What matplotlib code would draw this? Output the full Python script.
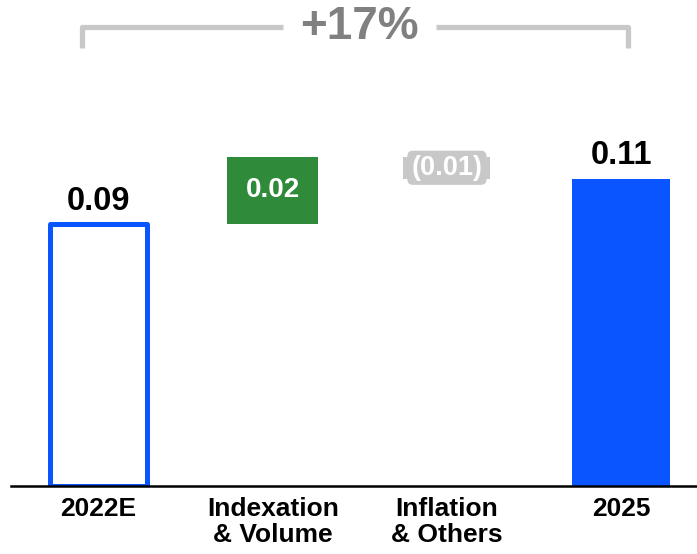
import matplotlib
matplotlib.use('Agg')
import matplotlib.pyplot as plt
from matplotlib.path import Path
from matplotlib.patches import PathPatch

plt.rcParams['font.family'] = ['Liberation Sans', 'DejaVu Sans']

# ── data ──
categories = ['2022E', 'Indexation\n& Volume', 'Inflation\n& Others', '2025']
start_value = 0.094
steps = [0.024, -0.008]
end_value = start_value + sum(steps)

BLUE = '#0A55FF'
GREEN = '#2F8A3A'
GREY = '#C8C8C8'
GREY_TXT = '#808080'

fig = plt.figure(figsize=(6.97, 5.54), dpi=100)
ax = fig.add_axes([11 / 697, 68 / 554, 1 - 11 / 697, 486 / 554])
ax.set_xlim(-0.503, 3.436)
ax.set_ylim(0, 0.1741)
for s in ['top', 'right', 'left']:
    ax.spines[s].set_visible(False)
ax.spines['bottom'].set_linewidth(1.8)
ax.spines['bottom'].set_zorder(5)
ax.set_yticks([])

x = list(range(len(categories)))

# start total: outlined bar
ax.bar(x[0], start_value, width=0.56, facecolor='white', edgecolor=BLUE,
       linewidth=3.6, joinstyle='round', zorder=2)
ax.annotate(f'{start_value:.2f}', (x[0], start_value), xytext=(0, 5),
            textcoords='offset points', ha='center', va='bottom',
            fontsize=23.5, fontweight='bold', color='black')

# floating steps
level = start_value
step_colors = [GREEN, GREY]
for i, (d, col) in enumerate(zip(steps, step_colors), start=1):
    bottom = level if d > 0 else level + d
    ax.bar(x[i], abs(d), bottom=bottom, width=0.52 if d > 0 else 0.5,
           color=col, zorder=2)
    mid = bottom + abs(d) / 2
    if d > 0:
        ax.text(x[i], mid, f'{d:.2f}', ha='center', va='center',
                fontsize=20, fontweight='bold', color='white', zorder=3)
    else:
        ax.text(x[i], mid, f'({abs(d):.2f})', ha='center', va='center',
                fontsize=19.5, fontweight='bold', color='white', zorder=3,
                bbox=dict(boxstyle='round,pad=0.15,rounding_size=0.2',
                          facecolor=GREY, edgecolor='none'))
    level += d

# end total
ax.bar(x[3], end_value, width=0.56, color=BLUE, zorder=2)
ax.annotate(f'{end_value:.2f}', (x[3], end_value), xytext=(0, 6),
            textcoords='offset points', ha='center', va='bottom',
            fontsize=23.5, fontweight='bold', color='black')

# growth bracket across the top
pct = (end_value / start_value - 1) * 100
yb, yd = 0.1645, 0.1568
xl, xr = -0.095, 3.04
gap_l, gap_r = 1.06, 1.94
for verts in ([(xl, yd), (xl, yb), (gap_l, yb)],
              [(gap_r, yb), (xr, yb), (xr, yd)]):
    ax.add_patch(PathPatch(Path(verts), fill=False, edgecolor=GREY,
                           linewidth=3.8, joinstyle='round', capstyle='butt',
                           clip_on=False))
ax.text(1.5, yb, f'+{pct:.0f}%', ha='center', va='center',
        fontsize=33, fontweight='bold', color=GREY_TXT)

ax.set_xticks(x)
ax.set_xticklabels(categories, fontsize=19, fontweight='bold',
                   linespacing=1.12)
ax.tick_params(axis='x', length=0, pad=8)

fig.savefig('out.png', dpi=100, facecolor='white')
